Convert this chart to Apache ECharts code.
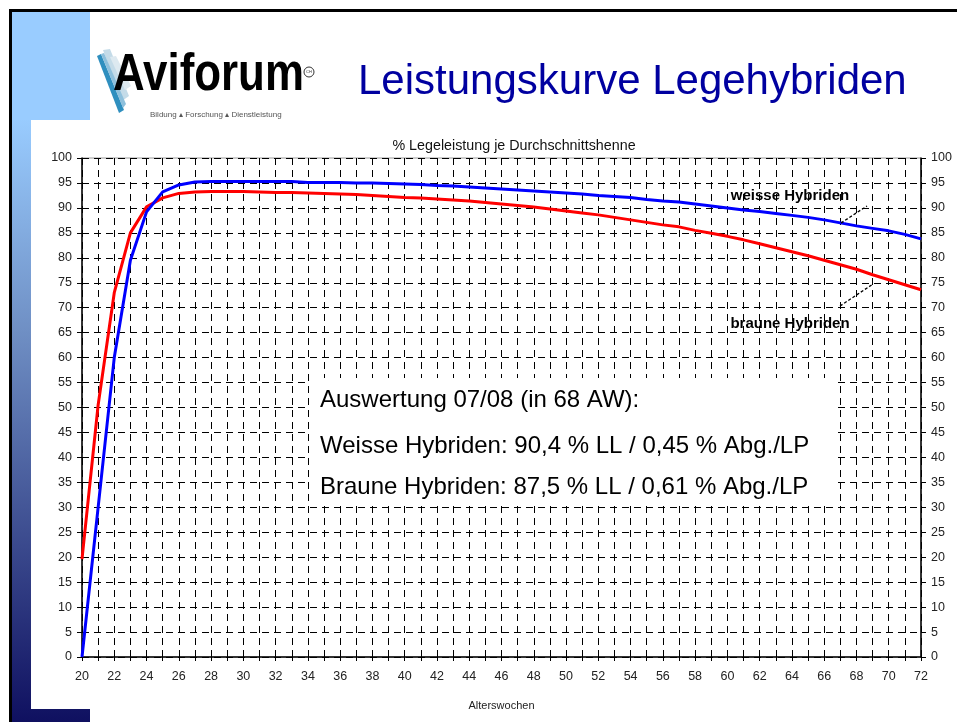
<!DOCTYPE html>
<html>
<head>
<meta charset="utf-8">
<script src="https://cdn.jsdelivr.net/npm/echarts@6/dist/echarts.min.js"></script>
<style>
html,body{margin:0;padding:0;background:#fff;}
#chart{width:957px;height:722px;}
</style>
</head>
<body>
<div id="chart"></div>
<script>
// Data
const weeks = [20,21,22,23,24,25,26,27,28,29,30,31,32,33,34,35,36,37,38,39,40,41,42,43,44,45,46,47,48,49,50,51,52,53,54,55,56,57,58,59,60,61,62,63,64,65,66,67,68,69,70,71,72];
const weisseHybriden = [0,30,60,79.5,89.2,93.2,94.6,95.2,95.3,95.3,95.3,95.3,95.3,95.3,95.1,95.1,95.1,95.0,95.0,94.9,94.8,94.7,94.5,94.4,94.2,94.0,93.8,93.6,93.4,93.2,93.0,92.8,92.5,92.3,92.1,91.7,91.4,91.2,90.8,90.4,90.0,89.6,89.3,88.9,88.5,88.1,87.6,87.0,86.4,85.9,85.4,84.7,83.8];
const brauneHybriden = [19.6,50.5,73,85,90.2,92,92.9,93.2,93.3,93.3,93.3,93.2,93.1,93.1,93.0,92.9,92.8,92.7,92.5,92.3,92.1,92.0,91.8,91.6,91.4,91.1,90.8,90.5,90.2,89.8,89.4,89.0,88.6,88.1,87.6,87.1,86.6,86.2,85.5,84.9,84.3,83.6,82.8,82.0,81.2,80.4,79.5,78.6,77.7,76.6,75.6,74.6,73.6];
const seriesNames = ['weisse Hybriden','braune Hybriden'];
const chartTitle = '% Legeleistung je Durchschnittshenne';
const xAxisName = 'Alterswochen';
const pageTitle = 'Leistungskurve Legehybriden';
const boxLines = ['Auswertung 07/08 (in 68 AW):','Weisse Hybriden: 90,4 % LL / 0,45 % Abg./LP','Braune Hybriden: 87,5 % LL / 0,61 % Abg./LP'];

const FONT = '"Liberation Sans", Arial, sans-serif';
const dash = [7,5];

const chart = echarts.init(document.getElementById('chart'), null, {renderer:'canvas'});
const axisLabelStyle = {color:'#222', fontSize:12.5, fontFamily:FONT};

const option = {
  animation:false,
  backgroundColor:'#fff',
  grid:{left:82, right:36, top:158, bottom:65, show:true, borderColor:'#9a9a9a', borderWidth:1, backgroundColor:'transparent'},
  xAxis:{
    type:'value', min:20, max:72, interval:1,
    name:xAxisName, nameLocation:'middle', nameGap:43,
    nameTextStyle:{fontSize:11, color:'#222', fontFamily:FONT},
    axisLine:{show:true, lineStyle:{color:'#000', width:1.5}},
    axisTick:{show:true, length:4, lineStyle:{color:'#000'}},
    axisLabel:Object.assign({margin:13, formatter:v=> (v%2===0? String(v):'')}, axisLabelStyle),
    splitLine:{show:true, lineStyle:{color:'#000', width:1, type:dash}}
  },
  yAxis:[{
    type:'value', min:0, max:100, interval:5, position:'left',
    axisLine:{show:true, lineStyle:{color:'#000', width:1.5}},
    axisTick:{show:true, length:5, lineStyle:{color:'#000'}},
    axisLabel:Object.assign({margin:10}, axisLabelStyle),
    splitLine:{show:true, lineStyle:{color:'#000', width:1, type:dash}}
  },{
    type:'value', min:0, max:100, interval:5, position:'right',
    axisLine:{show:true, lineStyle:{color:'#000', width:1.5}},
    axisTick:{show:true, length:5, lineStyle:{color:'#000'}},
    axisLabel:Object.assign({margin:10}, axisLabelStyle),
    splitLine:{show:false}
  }],
  series:[{
    name:seriesNames[0], type:'line', yAxisIndex:0, symbol:'none', z:5,
    lineStyle:{color:'#0000ff', width:3}, itemStyle:{color:'#0000ff'},
    data:weeks.map((w,i)=>[w, weisseHybriden[i]])
  },{
    name:seriesNames[1], type:'line', yAxisIndex:0, symbol:'none', z:4,
    lineStyle:{color:'#ff0000', width:3}, itemStyle:{color:'#ff0000'},
    data:weeks.map((w,i)=>[w, brauneHybriden[i]])
  }],
  graphic:[
    // frame and side decoration
    {type:'rect', z:-10, shape:{x:12,y:12,width:78,height:710}, style:{fill:new echarts.graphic.LinearGradient(0,0,0,1,[{offset:0,color:'#99ccff'},{offset:0.15,color:'#99ccff'},{offset:0.45,color:'#6f8fc4'},{offset:1,color:'#0f1060'}])}},
    {type:'rect', z:-9, shape:{x:31,y:120,width:59,height:589}, style:{fill:'#fff'}},
    {type:'rect', z:-9, shape:{x:90,y:12,width:867,height:697}, style:{fill:'#fff'}},
    {type:'rect', z:-8, shape:{x:10,y:9,width:947,height:3}, style:{fill:'#000'}},
    {type:'rect', z:-8, shape:{x:9,y:9,width:3,height:713}, style:{fill:'#000'}},
    // logo
    {type:'polygon', z:-5, shape:{points:[[103,50],[110,49],[129,96],[122,101]]}, style:{fill:'#c4dbe8'}},
    {type:'polygon', z:-5, shape:{points:[[110,57],[116,56],[131,86],[125,90]]}, style:{fill:'#dde9f0'}},
    {type:'polygon', z:-4, shape:{points:[[97,56],[101,54],[124,110],[119,113]]}, style:{fill:'#2f8fbf'}},
    {type:'polygon', z:-4, shape:{points:[[101,54],[104,53],[126,104],[123,108]]}, style:{fill:'#8ec0dc'}},
    {type:'text', z:-3, x:113, y:101, scaleX:0.86, style:{text:'Aviforum', fontSize:51, fontWeight:'bold', fill:'#000', fontFamily:FONT, textVerticalAlign:'bottom', textAlign:'left'}},
    {type:'circle', z:-3, shape:{cx:309,cy:72,r:5}, style:{fill:'none', stroke:'#333', lineWidth:1}},
    {type:'text', z:-3, x:309, y:72, style:{text:'CH', fontSize:4, fill:'#333', fontFamily:FONT, textAlign:'center', textVerticalAlign:'middle'}},
    {type:'text', z:-3, x:150, y:115, style:{text:'Bildung \u25B4 Forschung \u25B4 Dienstleistung', fontSize:8, fill:'#555', fontFamily:FONT, textAlign:'left', textVerticalAlign:'middle'}},
    {type:'text', z:-3, x:358, y:103, style:{text:pageTitle, fontSize:42, fill:'#0000a0', fontFamily:FONT, textAlign:'left', textVerticalAlign:'bottom'}},
    // chart title
    {type:'text', z:51, x:514, y:146, style:{text:chartTitle, fontSize:14.3, fill:'#111', fontFamily:FONT, textAlign:'center', textVerticalAlign:'middle'}},
    // info box
    {type:'rect', z:50, shape:{x:309.5,y:378,width:524,height:126}, style:{fill:'#fff'}},
    {type:'text', z:51, x:320, y:400, style:{text:boxLines[0], fontSize:24, fill:'#000', fontFamily:FONT, textAlign:'left', textVerticalAlign:'middle'}},
    {type:'text', z:51, x:320, y:446, style:{text:boxLines[1], fontSize:24, fill:'#000', fontFamily:FONT, textAlign:'left', textVerticalAlign:'middle'}},
    {type:'text', z:51, x:320, y:487, style:{text:boxLines[2], fontSize:24, fill:'#000', fontFamily:FONT, textAlign:'left', textVerticalAlign:'middle'}},
    // annotations
    {type:'text', z:51, x:790, y:196, style:{text:seriesNames[0], fontSize:15, fontWeight:'bold', fill:'#000', fontFamily:FONT, textAlign:'center', textVerticalAlign:'middle'}},
    {type:'text', z:51, x:790, y:324, style:{text:seriesNames[1], fontSize:15, fontWeight:'bold', fill:'#000', fontFamily:FONT, textAlign:'center', textVerticalAlign:'middle'}},
    {type:'line', z:51, shape:{x1:841,y1:223,x2:867,y2:206}, style:{stroke:'#000', lineWidth:1.3, lineDash:[3,2]}},
    {type:'line', z:51, shape:{x1:840,y1:306,x2:873,y2:284}, style:{stroke:'#000', lineWidth:1.3, lineDash:[3,2]}}
  ]
};
chart.setOption(option);
</script>
</body>
</html>
